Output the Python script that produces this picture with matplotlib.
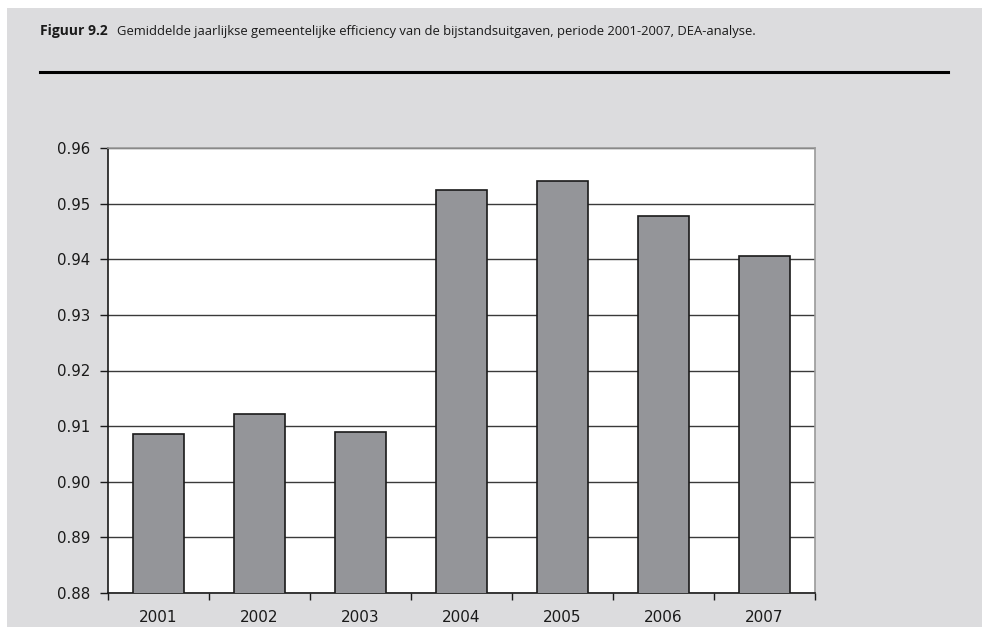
import matplotlib.pyplot as plt
from matplotlib.lines import Line2D
from matplotlib.patches import Rectangle
import numpy as np

years = ["2001", "2002", "2003", "2004", "2005", "2006", "2007"]
efficiency = [0.9085, 0.9122, 0.9090, 0.9525, 0.9540, 0.9477, 0.9405]
y_ticks = [0.88, 0.89, 0.90, 0.91, 0.92, 0.93, 0.94, 0.95, 0.96]

plt.rcParams["font.family"] = ["DejaVu Sans"]

bg = "#dcdcde"
W, H = 982, 627
fig = plt.figure(figsize=(W / 100, H / 100), dpi=100, facecolor="white")

# Grey panel with a thin white margin at the top and left
fig.add_artist(Rectangle((7 / W, 0), 1 - 7 / W, 1 - 8 / H,
                         transform=fig.transFigure, facecolor=bg,
                         edgecolor="none", zorder=0))

# Caption and rule
cap_y = 1 - 31 / H
fig.text(40 / W, cap_y, "Figuur 9.2", fontsize=10, fontweight="bold",
         family="Open Sans", va="center", ha="left", color="#1a1a1a")
fig.text(117 / W, cap_y,
         "Gemiddelde jaarlijkse gemeentelijke efficiency van de bijstandsuitgaven, periode 2001-2007, DEA-analyse.",
         fontsize=9.4, family="Open Sans", va="center", ha="left", color="#1a1a1a")
fig.add_artist(Line2D([40 / W, 948 / W], [1 - 72 / H, 1 - 72 / H],
                      transform=fig.transFigure, color="black", lw=2.2))

ax = fig.add_axes([108 / W, 1 - 593 / H, (815 - 108) / W, (593 - 148) / H])
ax.set_facecolor("white")
x = np.arange(len(years))
ax.bar(x, efficiency, width=0.5, color="#949599", edgecolor="#1a1a1a",
       linewidth=1.2, zorder=3)

ax.set_xlim(-0.5, len(years) - 0.5)
ax.set_ylim(y_ticks[0], y_ticks[-1])
ax.set_yticks(y_ticks)
ax.set_yticklabels([f"{v:.2f}" for v in y_ticks])
ax.yaxis.grid(True, color="#3a3a3a", linewidth=1.0, zorder=1)
ax.set_axisbelow(True)

ax.set_xticks(x)
ax.set_xticklabels(years)
ax.set_xticks(np.arange(-0.5, len(years)), minor=True)
ax.tick_params(axis="x", which="major", length=0, pad=12, labelsize=11,
               colors="#1a1a1a")
ax.tick_params(axis="x", which="minor", length=5, width=1, direction="out",
               color="#1a1a1a")
ax.tick_params(axis="y", length=6, width=1, direction="out", labelsize=10.8,
               pad=6.5, colors="#1a1a1a")

for side in ("left", "bottom"):
    ax.spines[side].set_color("#1a1a1a")
    ax.spines[side].set_linewidth(1.2)
for side in ("top", "right"):
    ax.spines[side].set_color("#9a9a9a")
    ax.spines[side].set_linewidth(1.2)

fig.savefig("out.png", dpi=100, facecolor="white")
